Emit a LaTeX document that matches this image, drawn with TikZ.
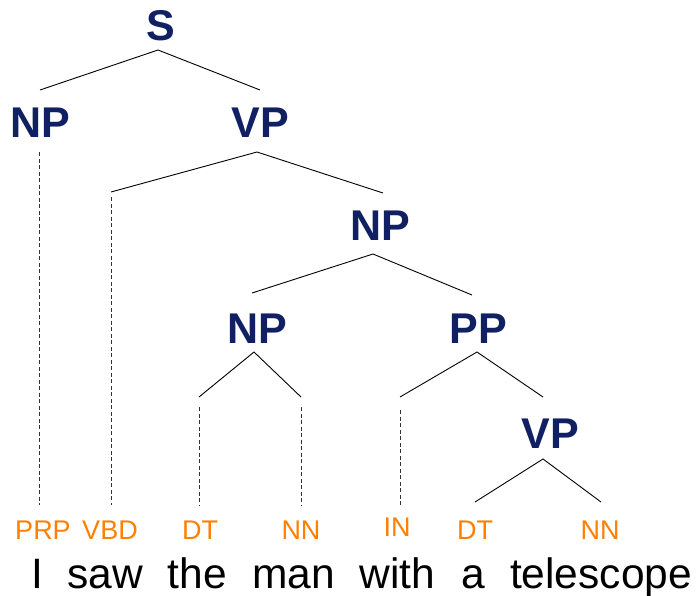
\documentclass[tikz,border=0pt]{standalone}
\usepackage{fontspec}
\setmainfont{Liberation Sans}
\definecolor{catblue}{RGB}{16,32,98}
\definecolor{posorange}{RGB}{255,128,0}
\begin{document}
\begin{tikzpicture}[x=1pt,y=-1pt,
  cat/.style={anchor=base,inner sep=0pt,text=catblue,font=\fontsize{43}{50}\selectfont\bfseries},
  postag/.style={anchor=base,inner sep=0pt,text=posorange,font=\fontsize{27}{32}\selectfont},
  word/.style={anchor=base,inner sep=0pt,text=black,font=\fontsize{42.5}{50}\selectfont},
  branch/.style={draw=black,line width=0.9pt},
  lexdash/.style={draw=black!80,line width=0.9pt,dash pattern=on 4pt off 2.5pt}]
\useasboundingbox (0,0) rectangle (696,595);
% category nodes
\node[cat] (S) at (161,40) {S};
\node[cat] (NP1) at (40,137) {NP};
\node[cat] (VP1) at (260,137) {VP};
\node[cat] (NP2) at (380,240) {NP};
\node[cat] (NP3) at (257,343) {NP};
\node[cat] (PP) at (478,343) {PP};
\node[cat] (VP2) at (550,448) {VP};
% POS nodes
\node[postag] (PRP) at (43,539) {PRP};
\node[postag] (VBD) at (110,539) {VBD};
\node[postag] (DT1) at (200,539) {DT};
\node[postag] (NN1) at (301,539) {NN};
\node[postag] (IN) at (397,536) {IN};
\node[postag] (DT2) at (475,539) {DT};
\node[postag] (NN2) at (600,539) {NN};
% words
\node[word] (w1) at (37.5,588) {I};
\node[word] (w2) at (105,588) {saw};
\node[word] (w3) at (197.5,588) {the};
\node[word] (w4) at (293.5,588) {man};
\node[word] (w5) at (397.5,588) {with};
\node[word] (w6) at (473,588) {a};
\node[word] (w7) at (601,588) {telescope};
% branch coordinates
\coordinate (S-a) at (158,50);
\coordinate (NP1-t) at (40,90);
\coordinate (VP1-t) at (260,90);
\coordinate (NP1-b) at (39,152);
\coordinate (PRP-t) at (39,505);
\coordinate (VP1-a) at (257,152);
\coordinate (VBD-u) at (111,192);
\coordinate (VBD-d) at (111,197);
\coordinate (VBD-t) at (111,505);
\coordinate (NP2-t) at (383,193);
\coordinate (NP2-a) at (373,254);
\coordinate (NP3-t) at (252,293);
\coordinate (PP-t) at (472,295);
\coordinate (NP3-a) at (254,352);
\coordinate (DT1-u) at (199,397);
\coordinate (DT1-d) at (199,407);
\coordinate (DT1-t) at (199,505);
\coordinate (NN1-u) at (301,397);
\coordinate (NN1-d) at (301,407);
\coordinate (NN1-t) at (301,505);
\coordinate (PP-a) at (477,352);
\coordinate (IN-u) at (400,397);
\coordinate (IN-d) at (400,410);
\coordinate (IN-t) at (400,505);
\coordinate (VP2-t) at (543,397);
\coordinate (VP2-a) at (543,459);
\coordinate (DT2-t) at (475,502);
\coordinate (NN2-t) at (601,502);
% solid branches
\draw[branch] (NP1-t) -- (S-a) -- (VP1-t);
\draw[branch] (VBD-u) -- (VP1-a) -- (NP2-t);
\draw[branch] (NP3-t) -- (NP2-a) -- (PP-t);
\draw[branch] (DT1-u) -- (NP3-a) -- (NN1-u);
\draw[branch] (IN-u) -- (PP-a) -- (VP2-t);
\draw[branch] (DT2-t) -- (VP2-a) -- (NN2-t);
% dashed lexical lines
\draw[lexdash] (NP1-b) -- (PRP-t);
\draw[lexdash] (VBD-d) -- (VBD-t);
\draw[lexdash] (DT1-d) -- (DT1-t);
\draw[lexdash] (NN1-d) -- (NN1-t);
\draw[lexdash] (IN-d) -- (IN-t);
\end{tikzpicture}
\end{document}
